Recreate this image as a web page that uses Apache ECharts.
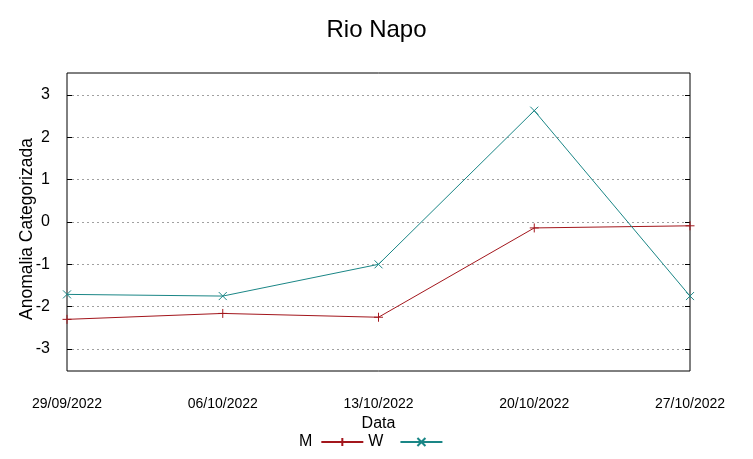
<!DOCTYPE html>
<html><head><meta charset="utf-8">
<script src="https://cdn.jsdelivr.net/npm/echarts@6/dist/echarts.min.js"></script>
<style>html,body{margin:0;background:#fff}#c{width:753px;height:459px}</style>
</head><body><div id="c"></div>
<script>
const dates = ['29/09/2022','06/10/2022','13/10/2022','20/10/2022','27/10/2022'];
const seriesM = [-2.30, -2.16, -2.25, -0.14, -0.09];
const seriesW = [-1.71, -1.75, -1.00, 2.63, -1.75];
const yTicks = [-3, -2, -1, 0, 1, 2, 3];

const red = '#a3161c';
const teal = '#1a8686';
const font = 'Liberation Sans';
const plusPath = 'path://M0,5L10,5M5,0L5,10';
const crossPath = 'path://M0,0L10,10M10,0L0,10';

const chart = echarts.init(document.getElementById('c'), null, {renderer: 'canvas'});
const yCommon = {
  type: 'value', min: -3.52, max: 3.52,
  axisLine: {show: false},
  axisTick: {show: true, inside: true, length: 5, customValues: yTicks, lineStyle: {color: '#000'}},
  splitLine: {show: false}
};
chart.setOption({
  animation: false,
  backgroundColor: '#fff',
  title: {text: 'Rio Napo', left: 'center', top: 13,
    textStyle: {fontFamily: font, fontSize: 24, fontWeight: 'normal', color: '#000'}},
  grid: {left: 67, right: 63, top: 73, bottom: 88, show: true, borderColor: '#000', borderWidth: 1, backgroundColor: 'transparent'},
  legend: {
    bottom: 4, left: 294, align: 'right', itemWidth: 42, itemHeight: 10, itemGap: 4,
    textStyle: {fontFamily: font, fontSize: 16, color: '#000', padding: [0, 4, 0, 0]},
    data: [{name: 'M'}, {name: 'W', textStyle: {padding: [0, 12, 0, 0]}}]
  },
  xAxis: {
    type: 'category', data: dates, boundaryGap: false,
    name: 'Data', nameLocation: 'middle', nameGap: 44,
    nameTextStyle: {fontFamily: font, fontSize: 16, color: '#000'},
    axisLine: {show: false}, axisTick: {show: false},
    axisLabel: {fontFamily: font, fontSize: 14, color: '#000', margin: 26, interval: 0},
    splitLine: {show: false}
  },
  yAxis: [
    Object.assign({}, yCommon, {
      position: 'left',
      name: 'Anomalia Categorizada', nameLocation: 'middle', nameGap: 31, nameMoveOverlap: false,
      nameTextStyle: {fontFamily: font, fontSize: 17.5, color: '#000', padding: [0, 14, 0, 0]},
      axisLabel: {fontFamily: font, fontSize: 16, color: '#000', margin: 17, customValues: yTicks},
      splitLine: {show: true, lineStyle: {color: '#a0a0a0', type: [2, 3], width: 1}}
    }),
    Object.assign({}, yCommon, {position: 'right', axisLabel: {show: false}})
  ],
  series: [
    {name: 'M', type: 'line', data: seriesM, symbol: plusPath, symbolSize: 9,
      lineStyle: {color: red, width: 1}, itemStyle: {color: red, borderColor: red, borderWidth: 1}},
    {name: 'W', type: 'line', data: seriesW, symbol: crossPath, symbolSize: 8,
      lineStyle: {color: teal, width: 1}, itemStyle: {color: teal, borderColor: teal, borderWidth: 1}}
  ]
});
</script></body></html>
